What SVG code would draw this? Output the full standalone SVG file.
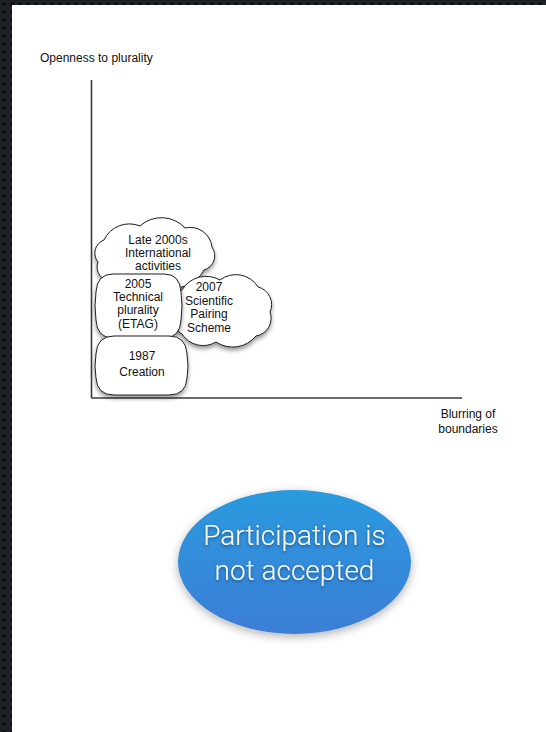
<svg xmlns="http://www.w3.org/2000/svg" width="546" height="732" viewBox="0 0 546 732">
  <defs>
    <pattern id="holes" x="0" y="0" width="8" height="8" patternUnits="userSpaceOnUse">
      <rect width="8" height="8" fill="#1a1d21"/>
      <circle cx="4" cy="4" r="3" fill="#0e1013" stroke="#2c3138" stroke-width="0.8"/>
    </pattern>
    <filter id="shadow" x="-20%" y="-20%" width="140%" height="150%">
      <feDropShadow dx="0" dy="3" stdDeviation="2.2" flood-color="#000" flood-opacity="0.4"/>
    </filter>
    <filter id="bigshadow" x="-20%" y="-20%" width="140%" height="150%">
      <feDropShadow dx="0" dy="3" stdDeviation="5" flood-color="#000" flood-opacity="0.3"/>
    </filter>
    <filter id="textshadow" x="-10%" y="-30%" width="120%" height="160%">
      <feDropShadow dx="0" dy="1.5" stdDeviation="1.5" flood-color="#0a2a55" flood-opacity="0.6"/>
    </filter>
    <linearGradient id="blue" x1="0" y1="0" x2="0" y2="1">
      <stop offset="0" stop-color="#2a9ade"/>
      <stop offset="1" stop-color="#3c7ed6"/>
    </linearGradient>
  </defs>
  <style>
    .shape { fill: #ffffff; stroke: #1e1e1e; stroke-width: 1; filter: url(#shadow); }
    .lbl { font-family: "Liberation Sans", Arial, sans-serif; font-size: 12px; fill: #111; text-anchor: middle; }
    .axlbl { font-family: "Liberation Sans", Arial, sans-serif; font-size: 12px; fill: #111; }
    .axis { stroke: #3a3a3a; stroke-width: 1.6; fill: none; }
    .big { font-family: Roboto, "Liberation Sans", Arial, sans-serif; font-weight: 300; font-size: 28px; fill: #ffffff; text-anchor: middle; filter: url(#textshadow); }
  </style>

  <rect x="0" y="0" width="546" height="732" fill="url(#holes)"/>
  <rect x="12" y="5" width="534" height="727" fill="#ffffff"/>

  <g id="connectors">
    <line class="axis" x1="91.5" y1="80" x2="91.5" y2="398"/>
    <line class="axis" x1="91.5" y1="398" x2="462" y2="398"/>
  </g>

  <g id="label-y">
    <text class="axlbl" x="40" y="62">Openness to plurality</text>
  </g>
  <g id="label-x">
    <text class="lbl" x="468" y="418">Blurring of</text>
    <text class="lbl" x="468" y="433">boundaries</text>
  </g>

  <g id="node-late2000s">
    <path class="shape" d="M104,240 A28,28 0 0 1 140,226 A32,32 0 0 1 185,228 A22,22 0 0 1 212,247 A15,15 0 0 1 204,270 A34,34 0 0 1 160,285 A34,34 0 0 1 112,281 A14,14 0 0 1 98,262 A14,14 0 0 1 104,240 Z"/>
    <text class="lbl" x="158" y="244">Late 2000s</text>
    <text class="lbl" x="158" y="257">International</text>
    <text class="lbl" x="158" y="270">activities</text>
  </g>

  <g id="node-2007">
    <path class="shape" d="M182,290 A28,28 0 0 1 220,280 A26,26 0 0 1 258,287 A18,18 0 0 1 270,312 A18,18 0 0 1 256,336 A30,30 0 0 1 216,342 A25,25 0 0 1 182,334 A14,14 0 0 1 178,312 A14,14 0 0 1 182,290 Z"/>
    <text class="lbl" x="209" y="291">2007</text>
    <text class="lbl" x="209" y="305">Scientific</text>
    <text class="lbl" x="209" y="318">Pairing</text>
    <text class="lbl" x="209" y="332">Scheme</text>
  </g>

  <g id="node-2005">
    <path class="shape" d="M113,274 L164,274 Q180,274 181,292 Q183,306 181,320 Q180,338 164,338 L113,338 Q97,338 96,320 Q94,306 96,292 Q97,274 113,274 Z"/>
    <text class="lbl" x="138" y="288">2005</text>
    <text class="lbl" x="138" y="301">Technical</text>
    <text class="lbl" x="138" y="314">plurality</text>
    <text class="lbl" x="138" y="328">(ETAG)</text>
  </g>

  <g id="node-1987">
    <path class="shape" d="M114,336 L169,336 Q186,336 187,354 Q189,366 187,378 Q186,395 169,395 L114,395 Q97,395 96,378 Q94,366 96,354 Q97,336 114,336 Z"/>
    <text class="lbl" x="142" y="360">1987</text>
    <text class="lbl" x="142" y="376">Creation</text>
  </g>

  <g id="node-participation">
    <ellipse cx="294.5" cy="562" rx="116.5" ry="72" fill="url(#blue)" filter="url(#bigshadow)"/>
    <text class="big" x="294.5" y="545">Participation is</text>
    <text class="big" x="294.5" y="580">not accepted</text>
  </g>
</svg>
